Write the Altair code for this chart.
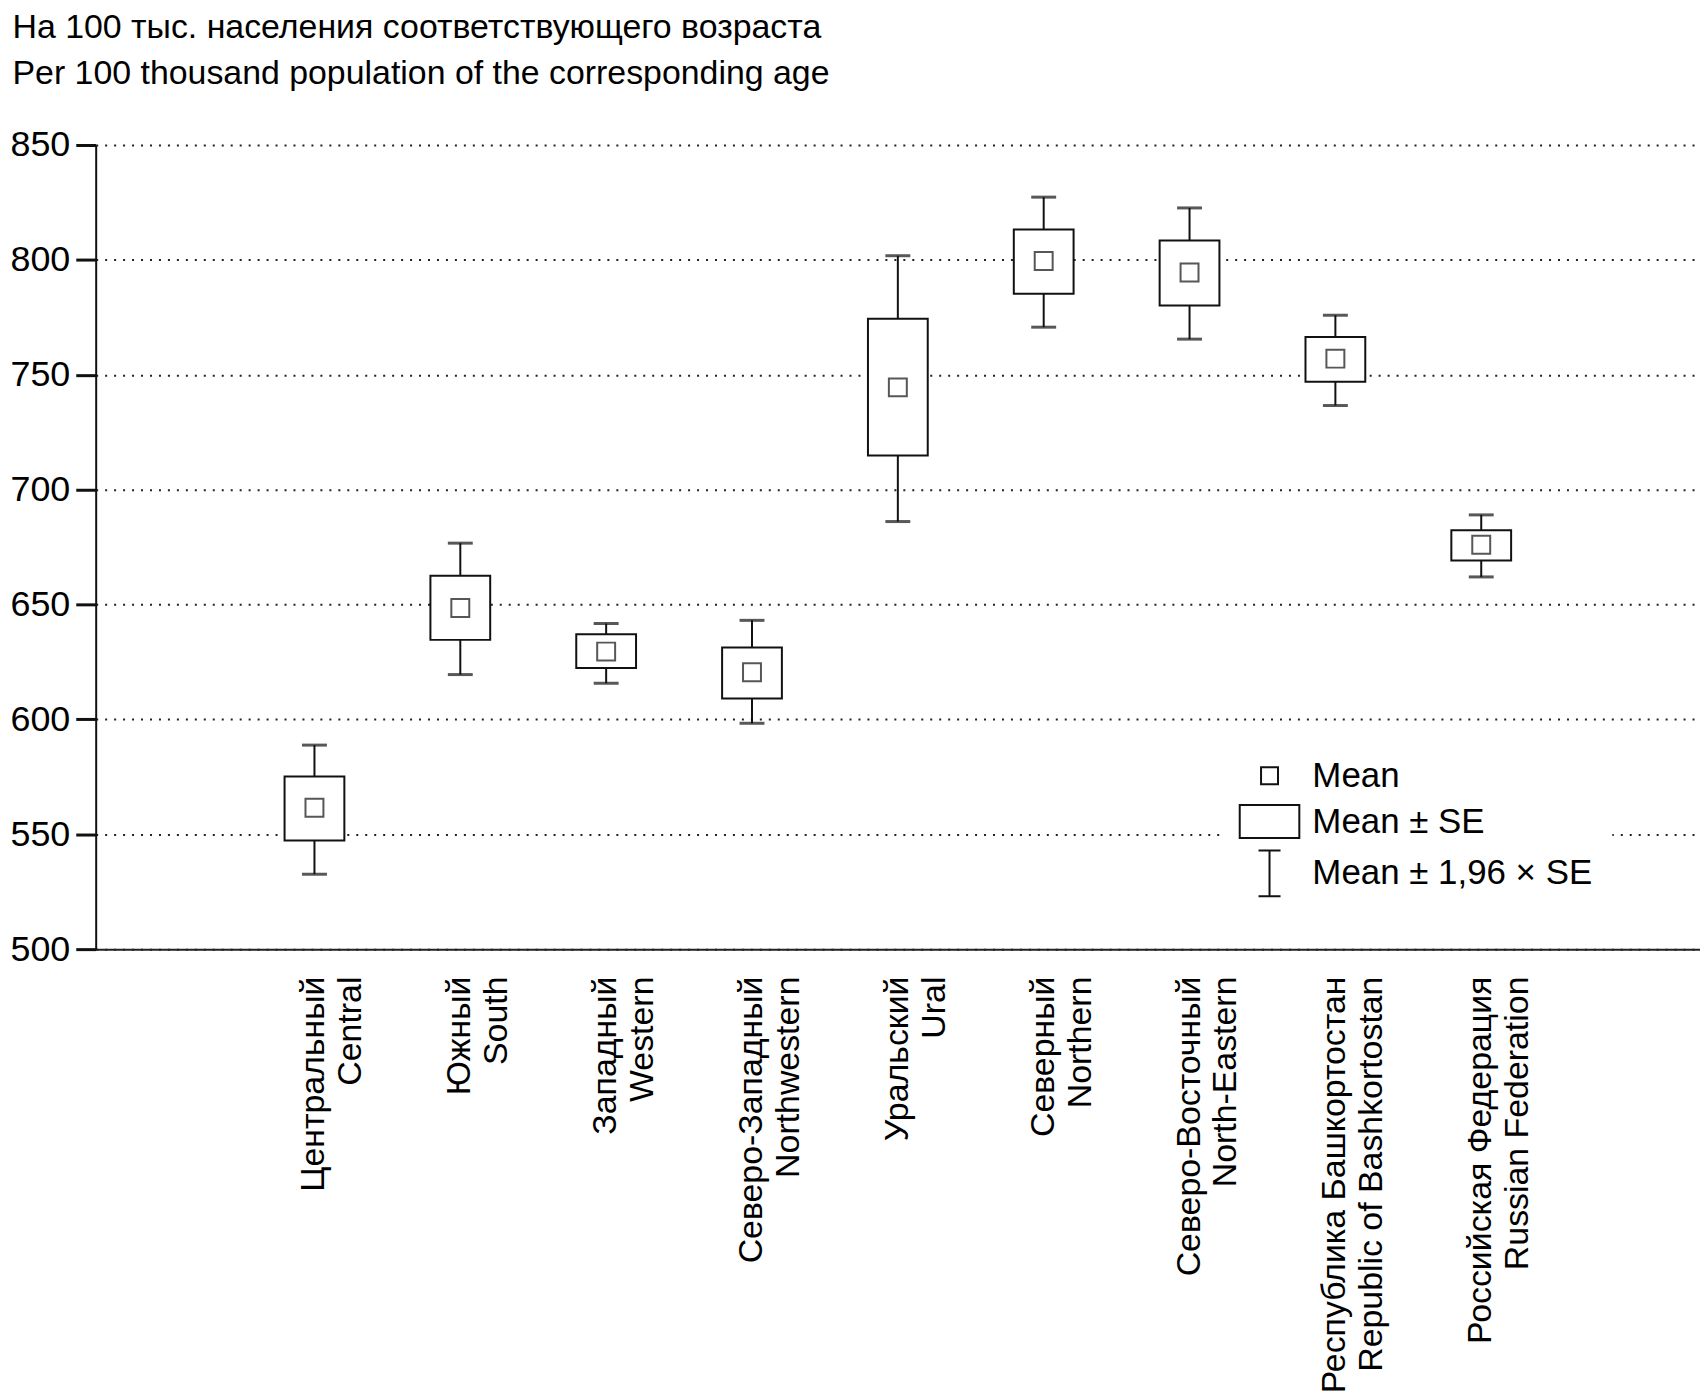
import altair as alt
import pandas as pd

regions = [
    "Центральный|Central",
    "Южный|South",
    "Западный|Western",
    "Северо-Западный|Northwestern",
    "Уральский|Ural",
    "Северный|Northern",
    "Северо-Восточный|North-Eastern",
    "Республика Башкортостан|Republic of Bashkortostan",
    "Российская Федерация|Russian Federation",
]
mean = [561.5, 648.5, 629.5, 620.5, 744.5, 799.5, 794.5, 757.0, 676.0]
se_lo = [547.3, 634.6, 622.4, 609.1, 714.9, 785.3, 780.1, 747.0, 669.1]
se_hi = [575.1, 662.5, 637.0, 631.3, 774.4, 813.2, 808.4, 766.4, 682.3]
ci_lo = [532.6, 619.5, 615.7, 598.3, 686.1, 770.7, 765.5, 736.6, 662.0]
ci_hi = [588.8, 676.7, 641.7, 643.1, 801.8, 827.3, 822.6, 775.9, 689.0]

y_ticks = [500, 550, 600, 650, 700, 750, 800, 850]
legend_items = ["Mean", "Mean ± SE", "Mean ± 1,96 × SE"]
title_lines = [
    "На 100 тыс. населения соответствующего возраста",
    "Per 100 thousand population of the corresponding age",
]

FONT = "Liberation Sans, Arial, sans-serif"

df = pd.DataFrame(
    {"region": regions, "mean": mean, "se_lo": se_lo, "se_hi": se_hi,
     "ci_lo": ci_lo, "ci_hi": ci_hi}
)
leg_df = pd.DataFrame({"item": legend_items})

x_enc = alt.X(
    "region:N",
    sort=regions,
    scale=alt.Scale(type="band", paddingInner=0, paddingOuter=1),
    axis=alt.Axis(
        title=None,
        labelExpr="split(datum.value, '|')",
        labelAngle=-90,
        labelAlign="right",
        labelBaseline="middle",
        labelFont=FONT,
        labelFontSize=34,
        labelLineHeight=37,
        labelPadding=27,
        labelColor="black",
        labelLimit=0,
        ticks=False,
        tickSize=0,
        domainColor="#222",
        domainWidth=2,
        grid=False,
        labelOverlap=False,
    ),
)

y_scale = alt.Scale(domain=[500, 850], nice=False, zero=False)
y_axis = alt.Axis(
    title=title_lines,
    titleAngle=0,
    titleAlign="left",
    titleBaseline="alphabetic",
    titleX=-84,
    titleY=-108,
    titleFont=FONT,
    titleFontSize=34,
    titleFontWeight="normal",
    titleColor="black",
    titleLineHeight=46,
    titleLimit=0,
    values=y_ticks,
    labelFont=FONT,
    labelFontSize=36,
    labelColor="black",
    labelPadding=6,
    tickSize=20,
    tickWidth=3,
    tickColor="#111",
    domainColor="#111",
    domainWidth=2,
    grid=True,
    gridColor="#222",
    gridWidth=2,
    gridDash=[2, 7],
)

base = alt.Chart(df)

whisker = base.mark_rule(color="#111", strokeWidth=2).encode(
    x=x_enc,
    y=alt.Y("ci_lo:Q", scale=y_scale, axis=y_axis),
    y2="ci_hi:Q",
)
box = base.mark_bar(width=60, fill="white", stroke="#111", strokeWidth=2).encode(
    x=x_enc, y=alt.Y("se_lo:Q", scale=y_scale), y2="se_hi:Q"
)
cap_lo = base.mark_tick(color="#111", thickness=3, size=25).encode(
    x=x_enc, y=alt.Y("ci_lo:Q", scale=y_scale)
)
cap_hi = base.mark_tick(color="#111", thickness=3, size=25).encode(
    x=x_enc, y=alt.Y("ci_hi:Q", scale=y_scale)
)
pt = base.mark_point(shape="square", filled=False, color="#111", size=324, strokeWidth=2).encode(
    x=x_enc, y=alt.Y("mean:Q", scale=y_scale)
)

shape_paths = [
    "M-0.37,-0.37L0.37,-0.37L0.37,0.37L-0.37,0.37Z",
    "M-1.3,-0.72L1.3,-0.72L1.3,0.72L-1.3,0.72Z",
    "M-0.48,-1L0.48,-1M0,-1L0,1M-0.48,1L0.48,1",
]
legend_layer = alt.Chart(leg_df).mark_point(opacity=0).encode(
    shape=alt.Shape(
        "item:N",
        sort=legend_items,
        scale=alt.Scale(domain=legend_items, range=shape_paths),
        legend=alt.Legend(
            title=None,
            orient="none",
            legendX=1134,
            legendY=589,
            symbolSize=2116,
            symbolStrokeColor="#111",
            symbolFillColor="white",
            symbolStrokeWidth=2,
            symbolOpacity=1,
            labelFont=FONT,
            labelFontSize=35,
            labelColor="black",
            labelOffset=19,
            labelLimit=0,
            fillColor="white",
            padding=20,
            rowPadding=4,
        ),
    )
)

chart = (
    alt.layer(whisker, box, cap_lo, cap_hi, pt, legend_layer)
    .properties(
        width=1610,
        height=807,
        autosize=alt.AutoSizeParams(type="none"),
        padding={"left": 88, "top": 135, "right": 0, "bottom": 450},
        background="white",
    )
    .configure_view(stroke=None)
)

chart.save("out.html", embed_options={"renderer": "svg", "actions": False})
